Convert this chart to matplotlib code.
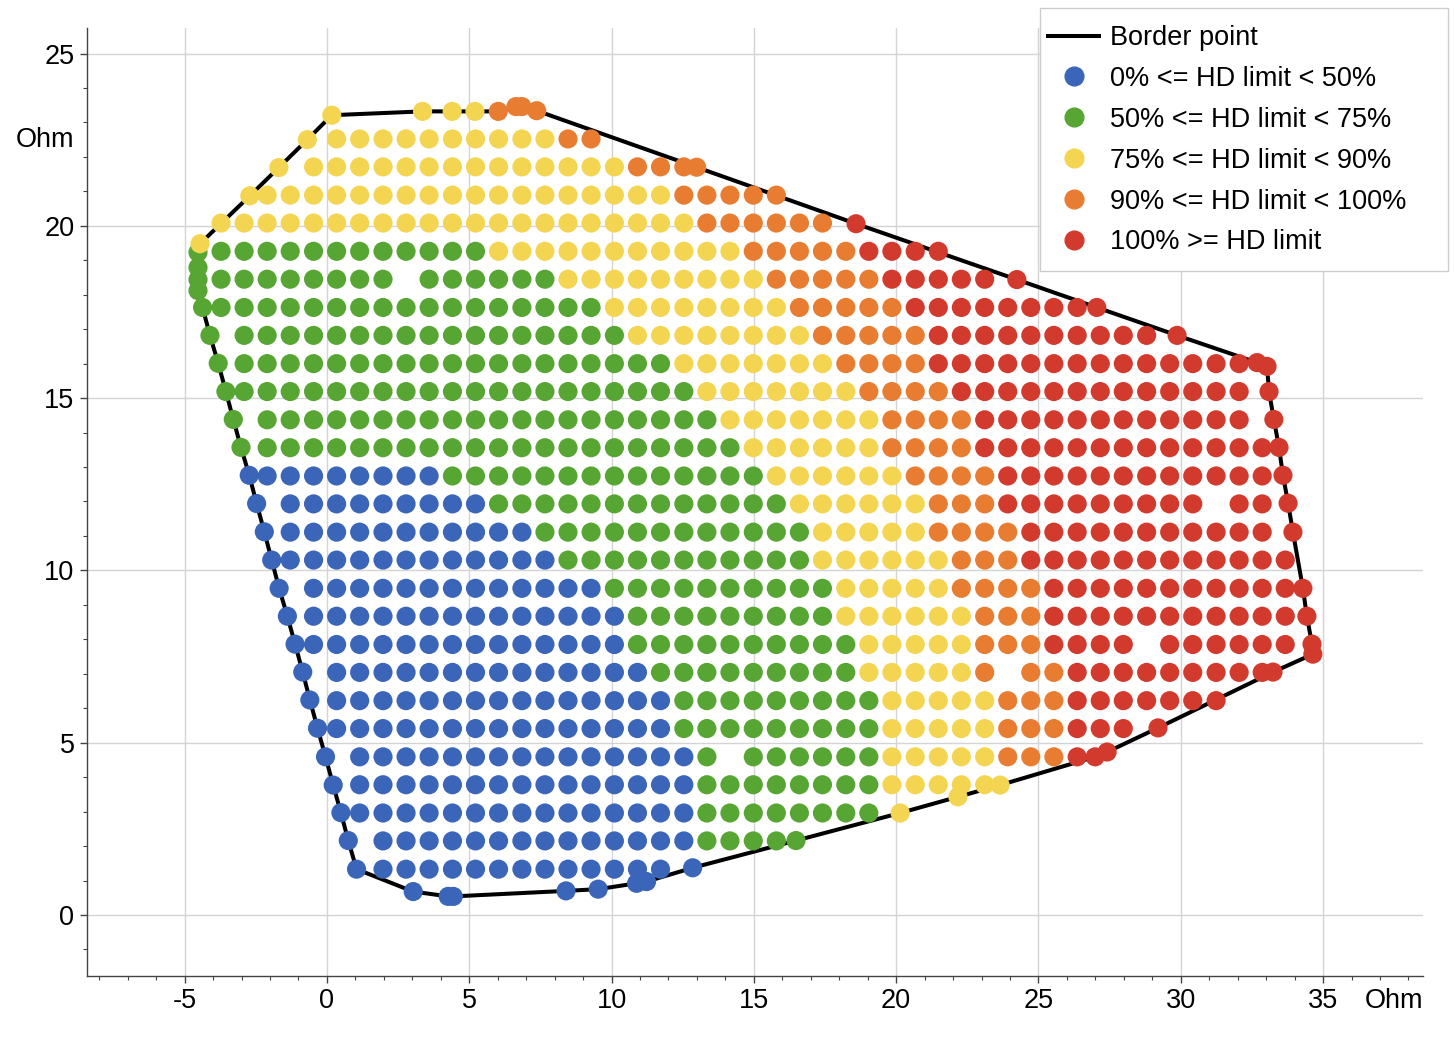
import matplotlib
matplotlib.use('Agg')
import matplotlib.pyplot as plt
from matplotlib.lines import Line2D
from matplotlib.patches import Rectangle
from matplotlib.ticker import MultipleLocator

plt.rcParams['font.family'] = ['Liberation Sans', 'DejaVu Sans']
plt.rcParams['axes.unicode_minus'] = False

# classes of the HD limit
classes = ['b', 'g', 'y', 'o', 'r']
class_labels = ['0% <= HD limit < 50%', '50% <= HD limit < 75%', '75% <= HD limit < 90%',
                '90% <= HD limit < 100%', '100% >= HD limit']
class_colors = ['#3a65b9', '#57a633', '#f4d552', '#e87d32', '#d33a2e']

# evaluated grid (Ohm): column x values and row y values
col_x = [-3.72, -2.91, -2.10, -1.29, -0.47, 0.34, 1.15, 1.97, 2.78, 3.59, 4.41, 5.22,
         6.03, 6.85, 7.66, 8.47, 9.28, 10.10, 10.91, 11.72, 12.54, 13.35, 14.16, 14.98,
         15.79, 16.60, 17.41, 18.23, 19.04, 19.85, 20.67, 21.48, 22.29, 23.11, 23.92,
         24.73, 25.54, 26.36, 27.17, 27.98, 28.80, 29.61, 30.42, 31.24, 32.05, 32.86, 33.67]
row_y = [22.52, 21.71, 20.89, 20.08, 19.26, 18.45, 17.63, 16.82, 16.00, 15.19, 14.37,
         13.56, 12.74, 11.93, 11.11, 10.30, 9.48, 8.67, 7.85, 7.04, 6.22, 5.41, 4.59,
         3.78, 2.96, 2.15, 1.33]

# one string per row (top row first), one char per column, '.' = no point
grid_rows = [
    ".....yyyyyyyyyyoo..............................",
    "....yyyyyyyyyyyyyyooo..........................",
    "..yyyyyyyyyyyyyyyyyyooooo......................",
    "yyyyyyyyyyyyyyyyyyyyyoooooo....................",
    "ggggggggggggyyyyyyyyyyyooooorrrr...............",
    "gggggggg.ggggggyyyyyyyyyooooorrrrr.............",
    "gggggggggggggggggyyyyyyyyooooorrrrrrrr.........",
    ".gggggggggggggggggyyyyyyyyooooorrrrrrrrrr......",
    ".gggggggggggggggggggyyyyyyyoooorrrrrrrrrrrrrr..",
    ".ggggggggggggggggggggyyyyyyyoooorrrrrrrrrrrrr..",
    "..ggggggggggggggggggggyyyyyyyoooorrrrrrrrrrrr..",
    "..gggggggggggggggggggggyyyyyyoooorrrrrrrrrrrrr.",
    "..bbbbbbbbggggggggggggggyyyyyyoooorrrrrrrrrrrr.",
    "...bbbbbbbbbgggggggggggggyyyyyyooorrrrrrrrr.rr.",
    "...bbbbbbbbbbbggggggggggggyyyyyoooorrrrrrrrrrr.",
    "...bbbbbbbbbbbbgggggggggggyyyyyyooorrrrrrrrrrrr",
    "....bbbbbbbbbbbbbggggggggggyyyyyoooorrrrrrrrrrr",
    "....bbbbbbbbbbbbbbgggggggggyyyyyyooorrrrrrrrrrr",
    "....bbbbbbbbbbbbbbggggggggggyyyyyooorrrr.rrrrrr",
    ".....bbbbbbbbbbbbbbgggggggggyyyyyo.oorrrrrrrrr.",
    ".....bbbbbbbbbbbbbbbgggggggggyyyyyooorrrrrrr...",
    ".....bbbbbbbbbbbbbbbgggggggggyyyyyooorrr.......",
    "......bbbbbbbbbbbbbbbg.ggggggyyyyyooor.........",
    "......bbbbbbbbbbbbbbbggggggggyyyyy.............",
    "......bbbbbbbbbbbbbbbgggggggg..................",
    ".......bbbbbbbbbbbbbbgggg......................",
    ".......bbbbbbbbbbbbb...........................",
]

# border points (Ohm), in order around the area, and their class
border_x = [0.17, 3.36, 4.40, 5.20, 6.02, 6.64, 6.85, 7.37, 12.99, 18.59, 24.24, 27.05,
            29.87, 32.68, 33.03, 33.10, 33.27, 33.45, 33.59, 33.77, 33.94, 34.29, 34.43,
            34.61, 34.64, 33.24, 29.20, 27.41, 26.99, 23.65, 22.17, 20.14, 16.48, 12.85,
            11.23, 10.88, 9.53, 8.40, 4.44, 4.26, 3.03, 1.04, 0.75, 0.49, 0.22, -0.05,
            -0.33, -0.60, -0.85, -1.12, -1.39, -1.68, -1.94, -2.20, -2.47, -2.73, -3.02,
            -3.29, -3.55, -3.82, -4.11, -4.37, -4.53, -4.53, -4.53, -4.53, -4.46, -2.71,
            -1.69, -0.69]
border_y = [23.21, 23.32, 23.32, 23.32, 23.32, 23.46, 23.46, 23.34, 21.70, 20.06, 18.44,
            17.63, 16.82, 16.03, 15.92, 15.19, 14.38, 13.57, 12.76, 11.95, 11.11, 9.48,
            8.67, 7.86, 7.57, 7.05, 5.43, 4.73, 4.59, 3.77, 3.43, 2.96, 2.16, 1.37, 0.97,
            0.92, 0.75, 0.70, 0.54, 0.54, 0.68, 1.33, 2.16, 2.97, 3.77, 4.59, 5.42, 6.24,
            7.05, 7.86, 8.67, 9.48, 10.30, 11.12, 11.94, 12.76, 13.57, 14.38, 15.19,
            16.01, 16.82, 17.63, 18.12, 18.44, 18.79, 19.23, 19.48, 20.87, 21.69, 22.50]
border_cls = "yyyy" + "ooooo" + "r" * 20 + "yyy" + "g" + "b" * 23 + "g" * 10 + "yyyy"

fig = plt.figure(figsize=(14.55, 10.41), dpi=100)
ax = fig.add_axes([87 / 1455, 65 / 1041, 1336 / 1455, 948 / 1041])

ax.plot(border_x + border_x[:1], border_y + border_y[:1], color='black', lw=2.9,
        zorder=2, solid_joinstyle='round')

ms = 190
for cls, col in zip(classes, class_colors):
    xs, ys = [], []
    for row, y in zip(grid_rows, row_y):
        for ch, x in zip(row, col_x):
            if ch == cls:
                xs.append(x)
                ys.append(y)
    ax.scatter(xs, ys, s=ms, color=col, edgecolors='none', zorder=3)
    bx = [x for x, c in zip(border_x, border_cls) if c == cls]
    by = [y for y, c in zip(border_y, border_cls) if c == cls]
    ax.scatter(bx, by, s=ms, color=col, edgecolors='none', zorder=4)

ax.set_xlim(-8.43, 38.51)
ax.set_ylim(-1.77, 25.74)
ax.xaxis.set_major_locator(MultipleLocator(5))
ax.yaxis.set_major_locator(MultipleLocator(5))
ax.xaxis.set_minor_locator(MultipleLocator(1))
ax.yaxis.set_minor_locator(MultipleLocator(1))
ax.grid(True, which='major', color='#d4d4d4', lw=1.0, zorder=0)
ax.set_axisbelow(True)
for s in ['top', 'right']:
    ax.spines[s].set_visible(False)
for s in ['left', 'bottom']:
    ax.spines[s].set_color('#444444')
    ax.spines[s].set_linewidth(1.0)
ax.tick_params(which='major', length=5, width=1, color='#444444', labelsize=19.5, pad=4)
ax.tick_params(which='minor', length=3, width=0.8, color='#444444')

# unit labels placed like tick labels
ty, va, ha = ax.get_yaxis_text1_transform(9)
ax.text(0, 22.5, 'Ohm', transform=ty, va='center', ha='right', fontsize=19.5)
tx, va, ha = ax.get_xaxis_text1_transform(9)
ax.text(37.5, 0, 'Ohm', transform=tx, va='top', ha='center', fontsize=19.5)

# legend box
fig.patches.append(Rectangle((1040 / 1455, 1 - 271 / 1041), 408 / 1455, 263 / 1041,
                             transform=fig.transFigure, facecolor='white',
                             edgecolor='#cccccc', lw=1.0, zorder=4))
handles = [Line2D([], [], color='black', lw=2.9)]
handles += [Line2D([], [], ls='', marker='o', markersize=13.5, color=c) for c in class_colors]
leg = fig.legend(handles, ['Border point'] + class_labels, loc='upper left',
                 bbox_to_anchor=(1048 / 1455, 1 - 25 / 1041), fontsize=19.5,
                 frameon=False, handlelength=1.9, handletextpad=0.4, labelspacing=0.55,
                 borderpad=0, borderaxespad=0)
leg.set_zorder(5)

fig.savefig('out.png', dpi=100)
